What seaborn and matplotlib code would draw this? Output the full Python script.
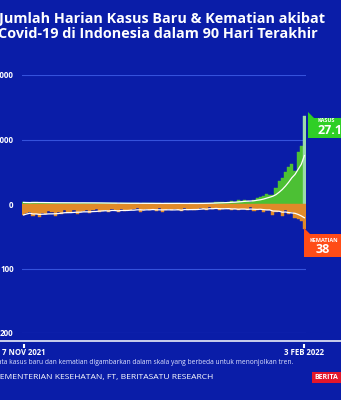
import numpy as np
import pandas as pd
import matplotlib
matplotlib.use("Agg")
import matplotlib.pyplot as plt
import seaborn as sns
from matplotlib.patches import Polygon, Rectangle

# ---------------- data ----------------
dates = pd.date_range("2021-11-06", "2022-02-03", freq="D")
cases = [492, 443, 375, 567, 480, 435, 430, 408, 347, 264, 435, 443, 379, 412, 385, 311, 215, 367, 453, 404,
         358, 367, 271, 176, 319,
         370, 297, 279, 244, 213, 140, 215, 284, 240, 197, 274, 183, 106, 190, 232, 203, 210, 167, 176, 107,
         173, 218, 208, 259, 196, 133, 92, 155, 179, 205, 222,
         265, 174, 265, 299, 404, 533, 529, 479, 414, 528, 802, 646, 1116, 1054, 1205, 855, 772, 1362, 1745, 2116,
         2604, 3205, 2925, 2927, 4878, 7010, 8077, 9905, 11588, 12422, 10185,
         16021, 17895, 27197]
deaths = [17, 14, 12, 19, 15, 20, 14, 16, 11, 12, 18, 13, 15, 10, 14, 12, 9, 16, 13, 11, 10, 14, 9, 8, 12,
          11, 9, 13, 8, 10, 12, 7, 11, 9, 10, 8, 6, 12, 10, 8, 9, 7, 11, 6, 13, 9, 8, 10, 7, 9, 11, 6, 10, 8, 9, 7,
          6, 7, 9, 5, 8, 6, 10, 7, 6, 8, 9, 7, 10, 8, 7, 9, 5, 11, 9, 8, 12, 10, 9, 17, 12, 11, 18, 10, 16, 13, 21,
          24, 27, 38]
ytick_values = [40000, 20000, 0, -20000, -40000]
ytick_labels = ["40.000", "20.000", "0", "100", "200"]
xtick_labels = ["7 NOV 2021", "3 FEB 2022"]
death_scale = 200  # 100 deaths drawn at the height of 20.000 cases

# ---------------- colours ----------------
BG = "#0a1da8"
GRID = "#3552dc"
GREEN = "#3cd81c"
MINT = "#8fe6a4"
ORANGE = "#ff8c0a"
RED = "#ff4c17"
BOXGREEN = "#2fcf26"
WHITE = "white"

n = len(cases)
df = pd.DataFrame({
    "idx": np.arange(n),
    "date": dates[:n],
    "cases": cases,
    "deaths_neg": -np.array(deaths) * death_scale,
    "last": ["last" if i == n - 1 else "other" for i in range(n)],
})
df["cases_avg"] = df["cases"].rolling(7, min_periods=1).mean()
df["deaths_avg"] = df["deaths_neg"].rolling(7, min_periods=1).mean()

plt.rcParams["font.family"] = ["Open Sans", "DejaVu Sans"]

W, H = 341, 400
fig = plt.figure(figsize=(W / 100, H / 100), dpi=100, facecolor=BG)

top_px, bot_px, left_px, right_px = 75, 333, 22, 306
ax = fig.add_axes([left_px / W, 1 - bot_px / H, (right_px - left_px) / W, (bot_px - top_px) / H])
ax.set_facecolor(BG)

sns.barplot(data=df, x="idx", y="cases", hue="last", palette={"other": GREEN, "last": MINT},
            width=1.0, dodge=False, legend=False, ax=ax, native_scale=True, linewidth=0, zorder=2)
sns.barplot(data=df, x="idx", y="deaths_neg", hue="last", palette={"other": ORANGE, "last": ORANGE},
            width=1.0, dodge=False, legend=False, ax=ax, native_scale=True, linewidth=0, zorder=2)
for p in ax.patches:
    p.set_edgecolor(p.get_facecolor())
    p.set_linewidth(0.3)

sns.lineplot(data=df, x="idx", y="cases_avg", color=WHITE, lw=0.9, ax=ax, zorder=3)
sns.lineplot(data=df, x="idx", y="deaths_avg", color=WHITE, lw=0.9, ax=ax, zorder=3)

ax.set_xlim(-0.5, n - 0.5)
ax.set_ylim(-40000, 40000)
ax.set_yticks(ytick_values)
ax.set_yticklabels(ytick_labels)
for yv in ytick_values:
    ax.axhline(yv, color=GRID, lw=0.8, zorder=1)
ax.tick_params(axis="y", length=0, pad=6, labelcolor=WHITE, labelsize=5.8)
for t in ax.get_yticklabels():
    t.set_fontweight("bold")
ax.set_xticks([0, n - 1])
ax.set_xticklabels(xtick_labels)
ax.spines["bottom"].set_position(("outward", 8))
for s in ax.spines.values():
    s.set_visible(False)
ax.tick_params(axis="x", length=2.6, width=1.5, color=WHITE, pad=0.3, labelcolor=WHITE, labelsize=5.6)
for t in ax.get_xticklabels():
    t.set_fontweight("bold")
ax.set_xlabel("")
ax.set_ylabel("")
ax.grid(False)

# ---------------- overlay (pixel coordinates) ----------------
ov = fig.add_axes([0, 0, 1, 1], zorder=5)
ov.set_xlim(0, W)
ov.set_ylim(H, 0)
ov.axis("off")
ov.patch.set_alpha(0)

ov.plot([0, W], [341, 341], color=WHITE, lw=1.1, solid_capstyle="butt")

ov.text(-1, 19, "Jumlah Harian Kasus Baru & Kematian akibat", color=WHITE, fontsize=10.4,
        fontweight="bold", ha="left", va="center")
ov.text(-1.5, 34.5, "Covid-19 di Indonesia dalam 90 Hari Terakhir", color=WHITE, fontsize=10.4,
        fontweight="bold", ha="left", va="center")

ov.text(293, 363, "Data kasus baru dan kematian digambarkan dalam skala yang berbeda untuk menonjolkan tren.",
        color="#dfe4ff", fontsize=4.8, ha="right", va="center")
ov.text(213, 377, "SUMBER: KEMENTERIAN KESEHATAN, FT, BERITASATU RESEARCH",
        color=WHITE, fontsize=6.1, ha="right", va="center")

# logo
ov.add_patch(Rectangle((312, 372), 40, 11, color="#e3162b", lw=0))
ov.text(314, 377.8, "BERITA", color=WHITE, fontsize=5, fontweight="bold", ha="left", va="center")

# KASUS label
ov.add_patch(Rectangle((308, 118), 40, 20, color=BOXGREEN, lw=0))
ov.add_patch(Polygon([(308, 112), (308, 119), (315, 119)], closed=True, color=BOXGREEN, lw=0))
ov.text(318, 121, "KASUS", color=WHITE, fontsize=4, fontweight="bold", ha="left", va="center")
ov.text(317.5, 131, f"{cases[-1]:,}".replace(",", "."), color=WHITE, fontsize=9, fontweight="bold",
        ha="left", va="center")

# KEMATIAN label
ov.add_patch(Rectangle((304, 234), 44, 23, color=RED, lw=0))
ov.add_patch(Polygon([(304, 228), (304, 235), (311, 235)], closed=True, color=RED, lw=0))
ov.text(310, 240.5, "KEMATIAN", color=WHITE, fontsize=4, fontweight="bold", ha="left", va="center")
ov.text(323, 249.5, f"{deaths[-1]}", color=WHITE, fontsize=9, fontweight="bold", ha="center", va="center")

fig.savefig("out.png", dpi=100, facecolor=BG)
